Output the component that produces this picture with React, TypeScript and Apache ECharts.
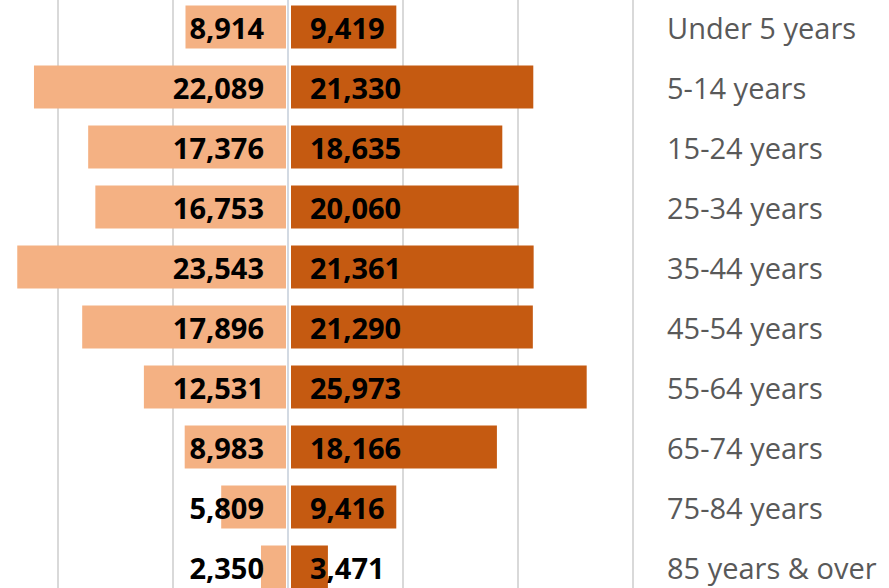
import React, { useEffect, useRef } from "react";
import * as echarts from "echarts";

const categories = [
  "Under 5 years",
  "5-14 years",
  "15-24 years",
  "25-34 years",
  "35-44 years",
  "45-54 years",
  "55-64 years",
  "65-74 years",
  "75-84 years",
  "85 years & over",
];
const leftValues = [8914, 22089, 17376, 16753, 23543, 17896, 12531, 8983, 5809, 2350];
const rightValues = [9419, 21330, 18635, 20060, 21361, 21290, 25973, 18166, 9416, 3471];

const fmt = (v: number) => Math.abs(v).toLocaleString("en-US");

const OFF_X = 60;
const OFF_Y = 10;

export default function App() {
  const ref = useRef<HTMLDivElement>(null);
  useEffect(() => {
    if (!ref.current) return;
    const chart = echarts.init(ref.current, undefined, { renderer: "svg" });
    const numFont = {
      fontFamily: "Open Sans",
      fontWeight: "bold" as const,
      fontSize: 29,
      color: "#000000",
    };
    chart.setOption({
      animation: false,
      grid: { left: OFF_X - 57, width: 690, top: OFF_Y - 3, height: 600, containLabel: false },
      xAxis: {
        type: "value",
        min: -30000,
        max: 30000,
        interval: 10000,
        axisLabel: { show: false },
        axisLine: { show: false },
        axisTick: { show: false },
        splitLine: { show: true, lineStyle: { color: "#d9d9d9", width: 2 } },
      },
      yAxis: {
        type: "category",
        data: categories,
        inverse: true,
        position: "right",
        axisLine: { show: false },
        axisTick: { show: false },
        axisLabel: {
          margin: 34,
          align: "left",
          fontFamily: "Open Sans",
          fontSize: 29,
          color: "#595959",
        },
      },
      series: [
        {
          type: "bar",
          data: leftValues.map((v) => -v),
          barWidth: 43,
          barGap: "-100%",
          itemStyle: { color: "#F4B183" },
          label: {
            show: true,
            position: "insideRight",
            distance: 24,
            formatter: (p: any) => fmt(p.value),
            ...numFont,
          },
        },
        {
          type: "bar",
          data: rightValues,
          barWidth: 43,
          barGap: "-100%",
          itemStyle: { color: "#C55A11" },
          label: {
            show: true,
            position: "insideLeft",
            distance: 22,
            formatter: (p: any) => fmt(p.value),
            ...numFont,
          },
          markLine: {
            silent: true,
            symbol: "none",
            label: { show: false },
            data: [
              { xAxis: 0, lineStyle: { color: "#ffffff", width: 5, type: "solid" } },
              { xAxis: 0, lineStyle: { color: "#d3dae3", width: 2, type: "solid" } },
            ],
          },
        },
      ],
    });
    return () => chart.dispose();
  }, []);
  return (
    <div style={{ position: "fixed", left: 0, top: 0, width: 889, height: 588, overflow: "hidden", background: "#fff" }}>
      <div
        ref={ref}
        style={{ position: "absolute", left: -OFF_X, top: -OFF_Y, width: 889 + OFF_X, height: 588 + OFF_Y + 20 }}
      />
    </div>
  );
}
